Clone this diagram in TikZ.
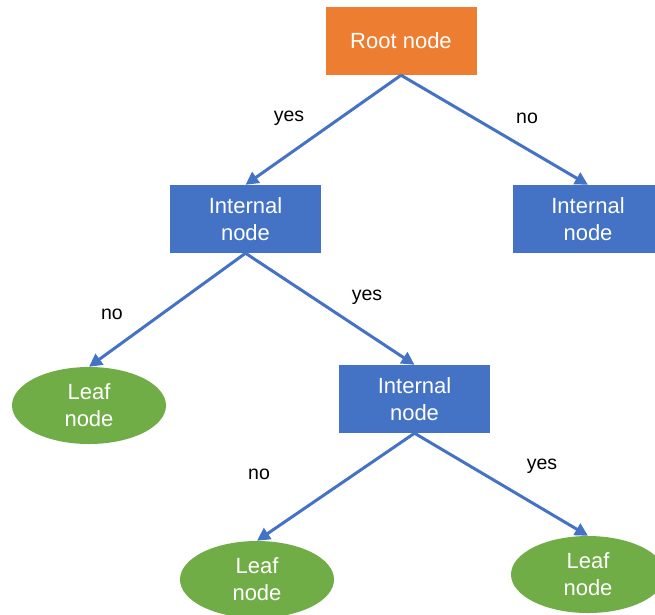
\documentclass[tikz,border=0pt]{standalone}
\usepackage{fontspec}
\setmainfont{Liberation Sans}
\usetikzlibrary{arrows.meta,shapes.geometric}
\definecolor{orng}{HTML}{ED7D31}
\definecolor{blu}{HTML}{4472C4}
\definecolor{grn}{HTML}{70AD47}
\tikzset{
  box/.style={fill=blu, text=white, minimum width=151pt, minimum height=68pt, inner sep=0pt, align=center, font=\fontsize{22}{27}\selectfont},
  rootbox/.style={box, fill=orng},
  leaf/.style={ellipse, fill=grn, text=white, minimum width=154pt, minimum height=77pt, inner sep=0pt, align=center, font=\fontsize{22}{27}\selectfont},
  lbl/.style={font=\fontsize{19.5}{23}\selectfont, text=black, inner sep=0pt},
  arr/.style={draw=blu, line width=3pt, -{Triangle[length=13pt,width=13pt]}}
}
\begin{document}
\begin{tikzpicture}[x=1pt,y=-1pt]
\clip (0,0) rectangle (655,614);
\fill[white] (0,0) rectangle (655,614);
\node[rootbox] (root) at (401,41) {Root node};
\node[box] (int1) at (245.5,219) {Internal\\node};
\node[box] (int2) at (588,219) {Internal\\node};
\node[leaf] (leaf1) at (89,405.5) {Leaf\\node};
\node[box] (int3) at (414.5,399) {Internal\\node};
\node[leaf] (leaf2) at (257,579.5) {Leaf\\node};
\node[leaf] (leaf3) at (588,574.5) {Leaf\\node};
\draw[arr] (root.south) -- (int1.north);
\draw[arr] (root.south) -- (int2.north);
\draw[arr] (int1.south) -- (leaf1.north);
\draw[arr] (int1.south) -- (int3.north);
\draw[arr] (int3.south) -- (leaf2.north);
\draw[arr] (int3.south) -- (leaf3.north);
\node[lbl] (l1) at (289,118) {yes};
\node[lbl] (l2) at (527,118) {no};
\node[lbl] (l3) at (112,314) {no};
\node[lbl] (l4) at (367,297) {yes};
\node[lbl] (l5) at (259,474) {no};
\node[lbl] (l6) at (542,466) {yes};
\end{tikzpicture}
\end{document}
